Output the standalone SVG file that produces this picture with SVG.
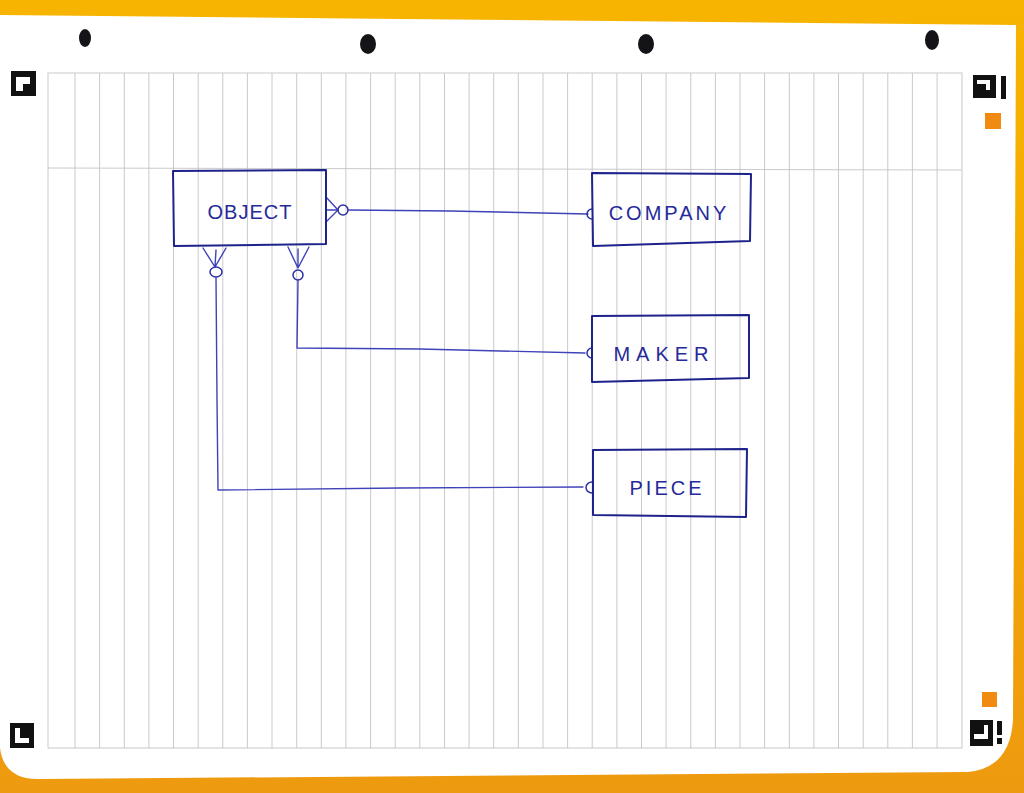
<svg xmlns="http://www.w3.org/2000/svg" width="1024" height="793" viewBox="0 0 1024 793">
  <defs>
    <linearGradient id="bg" x1="0" y1="0" x2="0" y2="1">
      <stop offset="0" stop-color="#f7b400"/>
      <stop offset="0.5" stop-color="#f4a800"/>
      <stop offset="1" stop-color="#ee9a10"/>
    </linearGradient>
    <style>
      .grid { stroke: #c4c4c8; stroke-width: 0.9; fill: none; }
      .box { fill: none; stroke: #1e238c; stroke-width: 2; stroke-linejoin: round; }
      .wire { fill: none; stroke: #3f42b8; stroke-width: 1.4; stroke-linecap: round; stroke-linejoin: round; }
      .ring { fill: none; stroke: #2c30a6; stroke-width: 1.5; }
      .lbl { font-family: "Liberation Sans", "DejaVu Sans", sans-serif; font-size: 20px; fill: #25299a; text-anchor: middle; }
      .hole { fill: #141418; }
      .mark { fill: #111; }
      .ora { fill: #f08a10; }
    </style>
  </defs>

  <!-- background and paper -->
  <rect x="0" y="0" width="1024" height="793" fill="url(#bg)"/>
  <path d="M0,15 L400,19 L1016,25 L1013,720 Q1010,768 968,772 L40,779 Q4,780 0,748 Z" fill="#ffffff"/>

  <!-- punched holes -->
  <ellipse class="hole" cx="85" cy="38" rx="6" ry="9" fill="#3a3632"/>
  <ellipse class="hole" cx="368" cy="44" rx="8" ry="10"/>
  <ellipse class="hole" cx="646" cy="44" rx="8" ry="10"/>
  <ellipse class="hole" cx="932" cy="40" rx="7" ry="10" fill="#1c2c50"/>

  <!-- corner markers -->
  <g id="markers">
    <rect class="mark" x="11" y="71" width="25" height="25" fill="#2a2418"/>
    <path d="M16,77 h14 v7 h-7 v7 h-7 z" fill="#ffffff"/>
    <rect class="mark" x="973" y="75" width="23" height="23"/>
    <path d="M977,80 h13 v10 h-4 v-6 h-9 z" fill="#ffffff"/>
    <rect class="mark" x="1001" y="76" width="5" height="23"/>
    <rect class="ora" x="985" y="113" width="16" height="16"/>
    <rect class="ora" x="982" y="692" width="15" height="15"/>
    <rect class="mark" x="10" y="723" width="24" height="25"/>
    <path d="M15,728 h5 v10 h9 v5 h-14 z" fill="#ffffff"/>
    <rect class="mark" x="970" y="720" width="23" height="26"/>
    <path d="M984,725 h4 v14 h-14 v-5 h10 z" fill="#ffffff"/>
    <rect class="mark" x="997" y="721" width="5" height="14"/>
    <rect class="mark" x="997" y="738" width="5" height="6"/>
  </g>

  <!-- ruled grid -->
  <g id="grid" class="grid">
    <rect x="48" y="73" width="914" height="675"/>
    <line x1="48" y1="168" x2="962" y2="170"/>
    <path d="M75,73V748 M99.6,73V748 M124.3,73V748 M148.9,73V748 M173.5,73V748 M198.2,73V748 M222.8,73V748 M247.4,73V748 M272,73V748 M296.7,73V748 M321.3,73V748 M345.9,73V748 M370.6,73V748 M395.2,73V748 M419.8,73V748 M444.5,73V748 M469.1,73V748 M493.7,73V748 M518.3,73V748 M543,73V748 M567.6,73V748 M592.2,73V748 M616.9,73V748 M641.5,73V748 M666.1,73V748 M690.8,73V748 M715.4,73V748 M740,73V748 M764.6,73V748 M789.3,73V748 M813.9,73V748 M838.5,73V748 M863.2,73V748 M887.8,73V748 M912.4,73V748 M937.1,73V748"/>
  </g>

  <!-- connectors -->
  <g id="connectors">
    <!-- OBJECT - COMPANY -->
    <path class="wire" d="M326,197 L338,210 M326,222 L338,210 M326,210 L338,210"/>
    <circle class="ring" cx="343" cy="210" r="5"/>
    <path class="wire" d="M348,210 L450,211 L588,214"/>
    <path class="ring" d="M592,209 A5,5 0 1 0 592,219"/>

    <!-- OBJECT - MAKER -->
    <path class="wire" d="M288,247 L298,268 M309,247 L298,268 M298,249 L298,268"/>
    <circle class="ring" cx="298" cy="275" r="5"/>
    <path class="wire" d="M298,280 L297,348 L420,349 L585,353"/>
    <path class="ring" d="M592,348 A5,5 0 1 0 592,358"/>

    <!-- OBJECT - PIECE -->
    <path class="wire" d="M203,248 L215,267 M226,248 L215,267 M216,250 L215,267"/>
    <ellipse class="ring" cx="216" cy="272" rx="6" ry="5"/>
    <path class="wire" d="M216,277 L217,400 L218,490 L400,488 L583,487"/>
    <path class="ring" d="M592,482 A6,5.5 0 1 0 592,493"/>
  </g>

  <!-- nodes -->
  <g id="object">
    <path class="box" d="M173,171 L326,170 L326,244 L174,246 Z"/>
    <text class="lbl" x="250" y="219" letter-spacing="1" fill="#2e3280">OBJECT</text>
  </g>
  <g id="company">
    <path class="box" d="M592,173 L751,174 L750,241 L593,246 Z"/>
    <text class="lbl" x="669" y="220" letter-spacing="3">COMPANY</text>
  </g>
  <g id="maker">
    <path class="box" d="M592,316 L749,315 L749,378 L592,382 Z"/>
    <text class="lbl" x="664" y="361" letter-spacing="6">MAKER</text>
  </g>
  <g id="piece">
    <path class="box" d="M593,450 L747,449 L746,517 L593,515 Z"/>
    <text class="lbl" x="667" y="495" letter-spacing="3">PIECE</text>
  </g>
</svg>
